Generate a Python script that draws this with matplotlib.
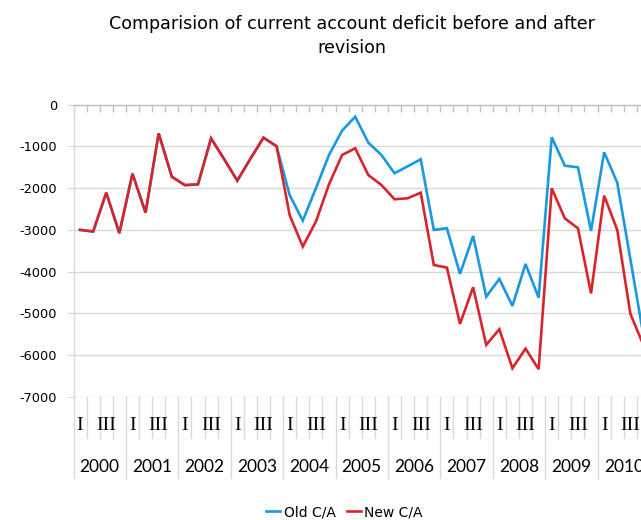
import matplotlib
matplotlib.use("Agg")
import matplotlib.pyplot as plt
from matplotlib.transforms import blended_transform_factory

# Quarterly current account balance, 2000 Q1 onwards
years = ["2000", "2001", "2002", "2003", "2004", "2005",
         "2006", "2007", "2008", "2009", "2010"]
quarter_labels = ["I", "", "III", ""]

old_ca = [-3000, -3040, -2110, -3080, -1655, -2590, -690, -1727,
          -1930, -1910, -810, -1310, -1822, -1300, -793, -1000,
          -2170, -2780, -2005, -1208, -626, -291, -913, -1208,
          -1646, -1480, -1311, -3002, -2962, -4055, -3146, -4598,
          -4175, -4820, -3816, -4622, -785, -1464, -1503, -3026,
          -1144, -1871, -3700, -5530]
new_ca = [-3000, -3040, -2110, -3080, -1655, -2590, -690, -1727,
          -1930, -1910, -810, -1310, -1822, -1300, -793, -1000,
          -2650, -3400, -2803, -1910, -1208, -1048, -1687, -1926,
          -2268, -2245, -2110, -3840, -3904, -5251, -4373, -5753,
          -5378, -6311, -5842, -6335, -2005, -2725, -2963, -4520,
          -2182, -3002, -5008, -5760]

y_ticks = [0, -1000, -2000, -3000, -4000, -5000, -6000, -7000]
y_tick_labels = ["0", "-1000", "-2000", "-3000", "-4000", "-5000", "-6000", "-7000"]

W, H = 641, 520
fig = plt.figure(figsize=(W / 100, H / 100), dpi=100)

left_px, right_px = 73.5, 650.0
top_px, bottom_px = 104.5, 397.0
ax = fig.add_axes([left_px / W, 1 - bottom_px / H,
                   (right_px - left_px) / W, (bottom_px - top_px) / H])

n = len(old_ca)
x = list(range(n))
grid_c = "#d9d9d9"
axis_c = "#bfbfbf"

ax.set_xlim(-0.5, len(years) * 4 - 0.5)
ax.set_ylim(-7000, 0)
ax.set_yticks(y_ticks)
ax.set_yticklabels(y_tick_labels, fontsize=9.3, family="DejaVu Sans")
ax.yaxis.grid(True, color=grid_c, linewidth=1.0)
ax.set_axisbelow(True)

for s in ["right", "bottom"]:
    ax.spines[s].set_visible(False)
ax.spines["left"].set_color(grid_c)
ax.spines["top"].set_color(axis_c)
ax.spines["left"].set_linewidth(1.0)
ax.spines["top"].set_linewidth(1.0)

ax.tick_params(axis="y", direction="out", length=4.7, color=grid_c, pad=7)
ax.xaxis.tick_top()
ax.set_xticks([k - 0.5 for k in range(len(years) * 4 + 1)])
ax.set_xticklabels([])
ax.tick_params(axis="x", direction="in", length=4.8, color=axis_c, width=1.0)

ax.plot(x, old_ca, color="#1b98e0", linewidth=1.9, label="Old C/A", solid_joinstyle="miter")
ax.plot(x, new_ca, color="#d7262b", linewidth=1.9, label="New C/A", solid_joinstyle="miter")

# Two-level category axis below the plot area
trans = blended_transform_factory(ax.transData, ax.transAxes)
span = bottom_px - top_px
q_end = -(438 - bottom_px) / span
y_end = -(478 - bottom_px) / span
q_text = -(425 - bottom_px) / span
y_text = -(467 - bottom_px) / span

ax.plot([-0.5, -0.5], [0, y_end], transform=trans, color=grid_c,
        linewidth=1.0, clip_on=False)
for yi, year in enumerate(years):
    for q in range(4):
        k = yi * 4 + q
        if q > 0:
            ax.plot([k - 0.5, k - 0.5], [0, q_end], transform=trans,
                    color=grid_c, linewidth=1.0, clip_on=False)
        if quarter_labels[q]:
            ax.text(k, q_text, quarter_labels[q], transform=trans,
                    ha="center", va="center", fontsize=14,
                    family="Liberation Serif", clip_on=False)
    ax.plot([yi * 4 + 3.5] * 2, [0, y_end], transform=trans,
            color=grid_c, linewidth=1.0, clip_on=False)
    ax.text(yi * 4 + 1.5, y_text, year, transform=trans, ha="center",
            va="center", fontsize=12.5, family="Lato", clip_on=False)

fig.text(352 / W, 1 - 36 / H,
         "Comparision of current account deficit before and after\nrevision",
         ha="center", va="center", fontsize=12.6, family="DejaVu Sans",
         linespacing=1.4)

fig.legend(loc="center", bbox_to_anchor=(344.5 / W, 1 - 512 / H), ncol=2,
           frameon=False, handlelength=1.0, handletextpad=0.25,
           columnspacing=0.8, prop={"family": "DejaVu Sans", "size": 10})

fig.savefig("out.png", dpi=100)
